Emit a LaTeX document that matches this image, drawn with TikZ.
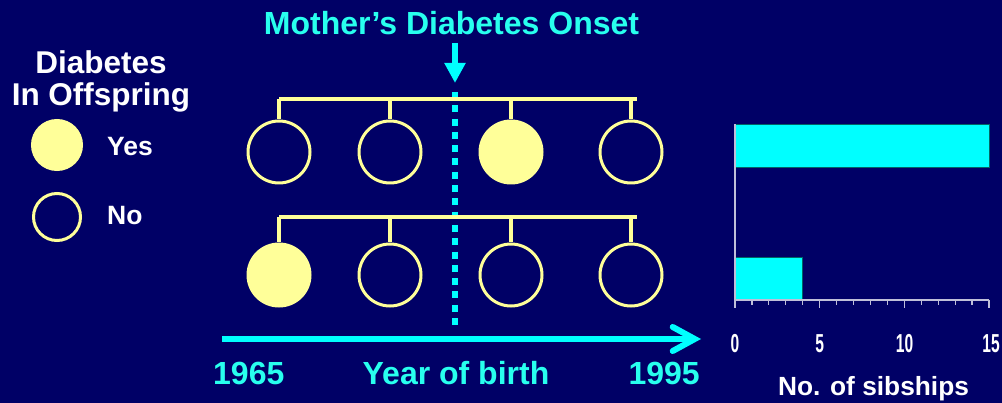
\documentclass[tikz,border=0pt]{standalone}
\usepackage{fontspec}
\setmainfont{Liberation Sans}
\usetikzlibrary{arrows.meta,calc}
\definecolor{navy}{RGB}{0,0,102}
\definecolor{cyantxt}{RGB}{40,255,238}
\definecolor{cyanln}{RGB}{0,255,255}
\definecolor{yel}{RGB}{255,255,153}
\tikzset{
  lbl/.style={font=\bfseries\fontsize{#1}{#1}\selectfont, inner sep=0pt},
  pedline/.style={draw=yel, line width=3.5pt},
  nocirc/.style={circle, draw=yel, line width=3pt, minimum size=62pt, inner sep=0pt},
  yescirc/.style={circle, fill=yel, draw=yel, line width=3pt, minimum size=62pt, inner sep=0pt},
  bar/.style={fill=cyanln, draw=black!60!cyanln, line width=0.8pt},
  axisln/.style={draw=white!75!navy, line width=1.2pt},
}
\begin{document}
\begin{tikzpicture}[x=1pt,y=-1pt]
\fill[navy] (0,0) rectangle (1002,403);
\useasboundingbox (0,0) rectangle (1002,403);
% legend
\node[lbl=31.5, text=white] (leg1) at (101,62) {Diabetes};
\node[lbl=31.5, text=white] (leg2) at (101,97) {In Offspring};
\node[yescirc, minimum size=49pt] (lyes) at (57,145) {};
\node[nocirc, minimum size=47pt] (lno) at (57,217) {};
\node[lbl=26.5, text=white, anchor=west] (tyes) at (107,147) {Yes};
\node[lbl=26.5, text=white, anchor=west] (tno) at (107,216) {No};
% title
\node[lbl=32, text=cyantxt] (title) at (451.5,23) {Mother’s Diabetes Onset};
\coordinate (arrS) at (455,43);
\coordinate (arrE) at (455,83);
\draw[cyanln, line width=6pt, -{Triangle[width=20pt,length=20pt]}] (arrS) -- (arrE);
% dotted onset line
\coordinate (dotS) at (455,92);
\coordinate (dotE) at (455,325);
\draw[cyanln, line width=6.5pt, dash pattern=on 7pt off 6.3pt] (dotS) -- (dotE);
% pedigree 1
\coordinate (b1L) at (279,99);
\coordinate (b1R) at (637,99);
\draw[pedline] (b1L) -- (b1R);
\node[nocirc] (c11) at (279,152) {};
\node[nocirc] (c12) at (390,152) {};
\node[yescirc] (c13) at (511,152) {};
\node[nocirc] (c14) at (631,152) {};
\foreach \i/\x in {1/279,2/390,3/511,4/631}{
  \draw[pedline] (\x,99) -- (c1\i.north);
}
% pedigree 2
\coordinate (b2L) at (279,217);
\coordinate (b2R) at (637,217);
\draw[pedline] (b2L) -- (b2R);
\node[yescirc] (c21) at (279,275) {};
\node[nocirc] (c22) at (390,275) {};
\node[nocirc] (c23) at (511,275) {};
\node[nocirc] (c24) at (631,275) {};
\foreach \i/\x in {1/279,2/390,3/511,4/631}{
  \draw[pedline] (\x,217) -- (c2\i.north);
}
% time axis
\coordinate (tS) at (222,339);
\coordinate (tE) at (701,339);
\draw[cyanln, line width=6pt, -{Straight Barb[length=22pt,width=24pt,line width=6pt,line cap=round]}] (tS) -- (tE);
\node[lbl=32, text=cyantxt, anchor=west] (y1) at (213,373) {1965};
\node[lbl=32, text=cyantxt] (yob) at (456,373) {Year of birth};
\node[lbl=32, text=cyantxt, anchor=east] (y2) at (700,373) {1995};
% bar chart
\coordinate (o) at (735,300);
\coordinate (ytop) at (735,124);
\coordinate (xend) at (989,300);
\draw[bar] (735,124) rectangle (989,167);
\draw[bar] (735,257) rectangle (802.7,300);
\draw[axisln] (ytop) -- (o) -- (xend);
\foreach \k in {0,...,15}{
  \pgfmathsetmacro{\xx}{735+\k*254/15}
  \draw[axisln] (\xx,300) -- (\xx,305.5);
}
\foreach \k in {0,5,10,15}{
  \pgfmathsetmacro{\xx}{735+\k*254/15}
  \draw[axisln] (\xx,300) -- (\xx,308.5);
}
\node[lbl=26, text=white, xscale=0.6] (tk0) at (735,344) {0};
\node[lbl=26, text=white, xscale=0.6] (tk5) at (819.7,344) {5};
\node[lbl=26, text=white, xscale=0.6] (tk10) at (904.5,344) {10};
\node[lbl=26, text=white, xscale=0.6] (tk15) at (991,344) {15};
\node[lbl=26.3, text=white] (xl) at (873.5,389) {No. of sibships};
\end{tikzpicture}
\end{document}
